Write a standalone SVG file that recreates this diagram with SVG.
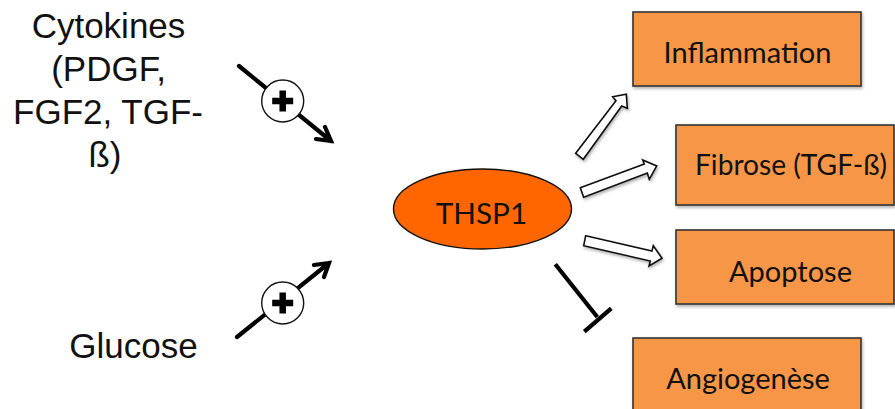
<svg xmlns="http://www.w3.org/2000/svg" width="895" height="409" viewBox="0 0 895 409">
<style>
.box{fill:#f79646;stroke:#333;stroke-width:1.6}
.bt{font-family:"Lato","Open Sans",sans-serif;font-size:29px;fill:#111;text-anchor:middle}
.lt{font-family:"Liberation Sans",Arial,sans-serif;font-size:35px;fill:#111;text-anchor:middle}
.line{fill:none;stroke:#000;stroke-width:4.2;stroke-linecap:round;stroke-linejoin:miter}
.block{fill:#fff;stroke:#111;stroke-width:1.6;stroke-linejoin:miter}
.circ{fill:#fff;stroke:#111;stroke-width:1.4}
.plus{fill:none;stroke:#000;stroke-width:6.5}
</style>
<defs>
<filter id="sh" x="-20%" y="-20%" width="140%" height="140%"><feDropShadow dx="1" dy="2" stdDeviation="1.5" flood-color="#000" flood-opacity="0.3"/></filter>
</defs>
<rect width="895" height="409" fill="#fff"/>
<g id="connectors">
<g id="activate-cytokines">
<path class="line" d="M239 66L331 141M325 127L331 141L316 139"/>
<circle class="circ" cx="282.700" cy="101" r="21"/>
<path class="plus" d="M282.700 90.500V111.500M272.200 101H293.200"/>
</g>
<g id="activate-glucose">
<path class="line" d="M237 337L329 263M314 265L329 263L324 277"/>
<circle class="circ" cx="282.700" cy="303" r="21"/>
<path class="plus" d="M282.700 292.500V313.500M272.200 303H293.200"/>
</g>
<polygon class="block" filter="url(#sh)" points="575.700,153.300 616,100.700 612.700,96.700 626.300,94.300 627.300,108.300 621.700,106 583.300,159.300"/>
<polygon class="block" filter="url(#sh)" points="580.300,187.700 644.300,164 642.700,160 656.700,166 649.300,179.300 647.300,173 583.700,197.300"/>
<polygon class="block" filter="url(#sh)" points="585.700,235.700 652,251 653.300,245.700 662,258.300 649,266 650.300,261 583.700,245.700"/>
<path class="line" style="stroke-linecap:butt" d="M555.300 264.300L597.300 317M611.300 308.300L584.300 331.700"/>
</g>
<g id="node-thsp1">
<ellipse cx="482.500" cy="209" rx="89" ry="40" fill="#ff6600" stroke="#111" stroke-width="1.4"/>
<text x="481.500" y="224" style="font-family:Lato,'Open Sans',sans-serif;font-size:29.700px;fill:#111;text-anchor:middle">THSP1</text>
</g>
<g id="node-inflammation">
<rect class="box" filter="url(#sh)" x="633" y="12" width="228" height="74"/>
<text class="bt" x="747.500" y="63">Inflammation</text>
</g>
<g id="node-fibrose">
<rect class="box" filter="url(#sh)" x="676" y="125" width="218" height="80"/>
<text class="bt" x="791" y="175" textLength="192" lengthAdjust="spacingAndGlyphs">Fibrose (TGF-ß)</text>
</g>
<g id="node-apoptose">
<rect class="box" filter="url(#sh)" x="676" y="230" width="218" height="74"/>
<text class="bt" x="790.500" y="282">Apoptose</text>
</g>
<g id="node-angiogenese">
<rect class="box" filter="url(#sh)" x="633" y="338" width="228" height="76"/>
<text class="bt" x="748" y="389">Angiogenèse</text>
</g>
<g id="node-cytokines">
<text class="lt" x="108.500" y="38">Cytokines</text>
<text class="lt" x="108.500" y="81">(PDGF,</text>
<text class="lt" x="108" y="124">FGF2, TGF-</text>
<text class="lt" x="105" y="167">ß)</text>
</g>
<g id="node-glucose">
<text class="lt" x="133.500" y="358">Glucose</text>
</g>
</svg>
